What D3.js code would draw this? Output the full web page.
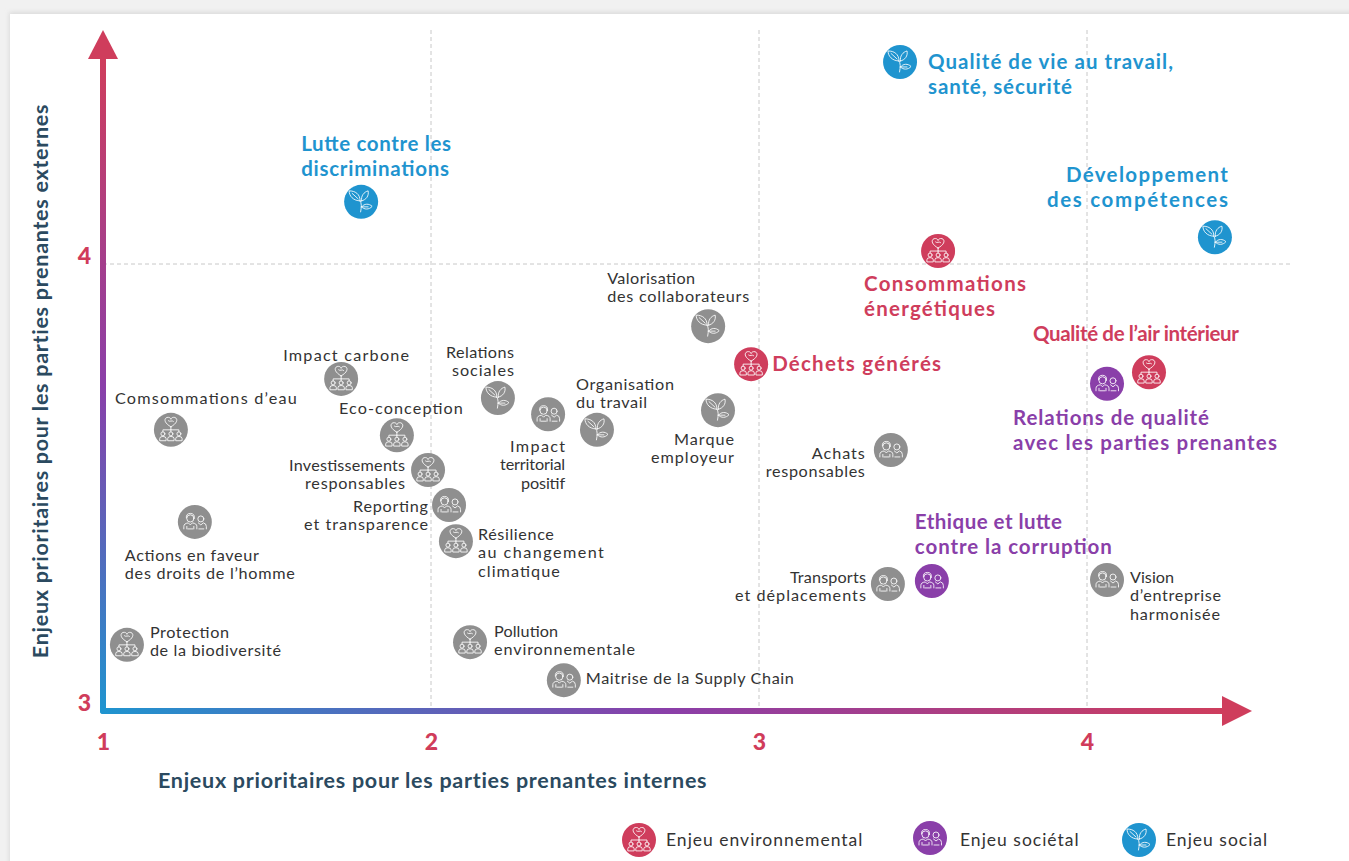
<!DOCTYPE html>
<html>
<head>
<meta charset="utf-8">
<script src="https://cdn.jsdelivr.net/npm/d3@7"></script>
<style>
    html, body { margin: 0; padding: 0; background: #f1f1f1; overflow: hidden; }
    text { font-family: Lato, "Open Sans", sans-serif; }
    .grid { stroke: #c8c8c8; stroke-width: 1; stroke-dasharray: 4 3; }
    .tick-label { font-size: 23px; font-weight: 900; fill: #d03c5b; }
    .axis-title { font-size: 21.5px; font-weight: 700; fill: #2b4a60; letter-spacing: 0.72px; }
    .label { font-size: 16.2px; fill: #333; }
    .label-big { font-size: 20.5px; font-weight: 700; }
    .legend-text { font-size: 17.5px; fill: #333; letter-spacing: 1px; }
    .glyph * { fill: none; stroke: #fff; stroke-width: 0.85; stroke-linecap: round; stroke-linejoin: round; }
</style>
</head>
<body>
<div id="wrapper"></div>
<script>
// data
const names = [
    "Qualité de vie au travail,|santé, sécurité", "Lutte contre les|discriminations", "Développement|des compétences",
    "Consommations|énergétiques", "Valorisation|des collaborateurs", "Déchets générés",
    "Qualité de l’air intérieur", "Relations de qualité|avec les parties prenantes", "Impact carbone",
    "Relations|sociales", "Impact|territorial|positif", "Organisation|du travail",
    "Marque|employeur", "Comsommations d’eau", "Eco-conception",
    "Investissements|responsables", "Achats|responsables", "Reporting|et transparence",
    "Résilience|au changement|climatique", "Actions en faveur|des droits de l’homme", "Transports|et déplacements",
    "Ethique et lutte|contre la corruption", "Vision|d’entreprise|harmonisée", "Protection|de la biodiversité",
    "Pollution|environnementale", "Maitrise de la Supply Chain",
]
const xValues = [
    3.43, 1.787, 4.39, 3.546, 2.845, 2.976, 4.189, 4.061, 1.726, 2.204, 2.357, 2.506, 2.875,
    1.207, 1.896, 1.991, 3.402, 2.055, 2.076, 1.28, 3.393, 3.527, 4.061, 1.073, 2.119, 2.405,
]
const yValues = [
    4.452, 4.139, 4.06, 4.029, 3.861, 3.776, 3.758, 3.732, 3.743, 3.70, 3.664, 3.629, 3.673,
    3.629, 3.617, 3.539, 3.584, 3.461, 3.38, 3.423, 3.284, 3.291, 3.293, 3.148, 3.154, 3.069,
]
// e = environnemental, s = sociétal, c = social
const icons = [
    "c", "c", "c", "e", "c", "e", "e", "s", "e", "c", "s", "c", "c",
    "e", "e", "e", "s", "s", "e", "s", "s", "s", "s", "e", "e", "s",
]
// only these are coloured, the others stay grey
const highlighted = [
    "c", "c", "c", "e", null, "e", "e", "s", null, null, null, null, null,
    null, null, null, null, null, null, null, null, "s", null, null, null, null,
]
const xTicks = [1, 2, 3, 4]
const yTicks = [3, 4]
const legendKeys = ["e", "s", "c"]
const legendLabels = ["Enjeu environnemental", "Enjeu sociétal", "Enjeu social"]

// label placement, offset from the marker: [anchor, dx, dy of first line]
const labelPlacement = [
    ["start", 28, 0], ["start", -60, -58], ["end", 13, -62], ["start", -74, 33], ["start", -101, -48], ["start", 21, 0],
    ["start", -116, -38], ["start", -94, 34], ["end", 68, -24], ["end", 16, -46], ["end", 17, 32], ["start", -21, -46],
    ["end", 16, 29], ["start", -56, -32], ["start", -58, -27], ["end", -23, -5], ["end", -26, 3], ["end", -21, 1],
    ["start", 22, -7], ["start", -70, 33], ["end", -22, -7], ["start", -17, -59], ["start", 23, -3], ["start", 23, -13],
    ["start", 24, -11], ["start", 22, -2],
]
// width of each label line, the font here is not the original one
const lineWidths = [
    [245, 144], [150, 148], [162, 181], [162, 131], [88, 142], [169],
    [206], [196, 264], [126], [68, 62], [55, 65, 44], [98, 71],
    [60, 83], [182], [124], [116, 100], [53, 99], [75, 124],
    [76, 126, 82], [134, 170], [76, 131], [147, 197], [44, 91, 90], [79, 131],
    [64, 141], [208],
]

const colors = { e: "#cf3d5c", s: "#8a3fa9", c: "#1f94cf" }
const grey = "#8f8f8f"

function drawMatrix() {

    const width = 1349
    const height = 861
    const r = 17

    const xScale = d3.scaleLinear().domain([1, 4]).range([103, 1087])
    const yScale = d3.scaleLinear().domain([3, 4]).range([711, 264])

    const svg = d3.select("#wrapper")
        .append("svg")
        .attr("width", width)
        .attr("height", height)
        .style("display", "block")

    const defs = svg.append("defs")

    // card
    defs.append("filter").attr("id", "soft").append("feGaussianBlur").attr("stdDeviation", 2)
    svg.append("rect").attr("x", 9).attr("y", 12).attr("width", width).attr("height", height)
        .attr("fill", "#dcdcdc").attr("filter", "url(#soft)")
    svg.append("rect").attr("x", 10).attr("y", 14).attr("width", width).attr("height", height)
        .attr("fill", "#fff")

    // axis gradients
    const stops = [["0%", colors.c], ["50%", colors.s], ["100%", colors.e]]
    const addGradient = (id, x1, y1, x2, y2) => defs.append("linearGradient")
        .attr("id", id)
        .attr("gradientUnits", "userSpaceOnUse")
        .attr("x1", x1).attr("y1", y1).attr("x2", x2).attr("y2", y2)
        .selectAll("stop")
        .data(stops)
        .join("stop")
        .attr("offset", d => d[0])
        .attr("stop-color", d => d[1])
    addGradient("grad-x", 103, 0, 1230, 0)
    addGradient("grad-y", 0, 711, 0, 60)

    // icon glyphs
    const glyphE = defs.append("g").attr("id", "glyph-e").attr("class", "glyph")
    glyphE.append("path").attr("d", "M0,-3 C-9,-8 -6,-13 -2.5,-12.5 C-1,-12.5 0,-11 0,-10.5 C0,-11 1,-12.5 2.5,-12.5 C6,-13 9,-8 0,-3 Z")
    glyphE.append("path").attr("d", "M-2.5,-9 C-1,-7.5 1,-10 2.5,-8.5")
    glyphE.append("path").attr("d", "M0,-3 V0 M-8,2 V0 H8 V2 M0,0 V2")
    ;[-8, 0, 8].forEach(x => {
        glyphE.append("circle").attr("cx", x).attr("cy", 4).attr("r", 2)
        glyphE.append("path").attr("d", `M${x - 3.2},10.5 V8.8 Q${x - 3.2},6.6 ${x},6.6 Q${x + 3.2},6.6 ${x + 3.2},8.8 V10.5 Z`)
    })

    const glyphS = defs.append("g").attr("id", "glyph-s").attr("class", "glyph")
    glyphS.append("circle").attr("cx", -4.5).attr("cy", -3.5).attr("r", 3.6)
    glyphS.append("path").attr("d", "M-8.5,-4 Q-9,-8.5 -4.5,-8.5 Q0,-8.5 -0.5,-4")
    glyphS.append("path").attr("d", "M-11,7 V4.5 Q-11,1.5 -6.5,1 L-4.5,3 L-2.5,1 Q2,1.5 2,4.5 V7")
    glyphS.append("path").attr("d", "M-8,7 V4.5 M-1,7 V4.5 M-7,7 H-2")
    glyphS.append("circle").attr("cx", 6).attr("cy", -3).attr("r", 3)
    glyphS.append("path").attr("d", "M3.5,1 L6,3 L8.5,1 Q11.5,1.5 11.5,4.5 V7 M4,7 H9")

    const glyphC = defs.append("g").attr("id", "glyph-c").attr("class", "glyph")
    glyphC.append("path").attr("d", "M-1,-1 C-8,-1 -12,-6 -12,-11 C-6,-11 -1,-8 -1,-1 Z")
    glyphC.append("path").attr("d", "M-9,-8.5 L-3,-3")
    glyphC.append("path").attr("d", "M0.5,-1 C-0.5,-6 3,-10 7,-11 C8,-6 5,-2 0.5,-1 Z")
    glyphC.append("path").attr("d", "M-0.5,10 C0.5,5 0.5,1 -1,-1")
    glyphC.append("path").attr("d", "M0.5,5 C3,1.5 8,1.5 11,4.5 C8,8 3,8 0.5,5 Z M0.5,5 H7")

    // grid
    const grid = svg.append("g")
    grid.selectAll(".grid-x")
        .data(xTicks.slice(1))
        .join("line")
        .attr("class", "grid")
        .attr("x1", xScale).attr("x2", xScale)
        .attr("y1", 30).attr("y2", yScale(3))
    grid.selectAll(".grid-y")
        .data(yTicks.slice(1))
        .join("line")
        .attr("class", "grid")
        .attr("x1", xScale(1)).attr("x2", 1290)
        .attr("y1", yScale).attr("y2", yScale)

    // ticks, via the d3 axes but without their lines
    const xAxis = svg.append("g")
        .attr("transform", `translate(0,${yScale(3)})`)
        .call(d3.axisBottom(xScale).tickValues(xTicks).tickSize(0).tickPadding(23).tickFormat(d3.format("d")))
    const yAxis = svg.append("g")
        .attr("transform", `translate(${xScale(1)},0)`)
        .call(d3.axisLeft(yScale).tickValues(yTicks).tickSize(0).tickPadding(12).tickFormat(d3.format("d")))
    xAxis.select(".domain").remove()
    yAxis.select(".domain").remove()
    xAxis.selectAll("text").attr("class", "tick-label").attr("fill", null)
    yAxis.selectAll("text").attr("class", "tick-label").attr("fill", null).attr("y", -8)

    // axis arrows
    svg.append("line")
        .attr("x1", xScale(1)).attr("x2", xScale(1))
        .attr("y1", yScale(3)).attr("y2", 58)
        .attr("stroke", "url(#grad-y)").attr("stroke-width", 6).attr("stroke-linecap", "round")
    svg.append("line")
        .attr("x1", xScale(1)).attr("x2", 1224)
        .attr("y1", yScale(3)).attr("y2", yScale(3))
        .attr("stroke", "url(#grad-x)").attr("stroke-width", 6).attr("stroke-linecap", "round")
    const arrowX = xScale(1)
    const arrowY = yScale(3)
    svg.append("path")
        .attr("d", d3.line()([[arrowX, 30], [arrowX + 15, 59], [arrowX - 15, 59]]) + "Z")
        .attr("fill", colors.e)
    svg.append("path")
        .attr("d", d3.line()([[1252, arrowY], [1222, arrowY - 15], [1222, arrowY + 15]]) + "Z")
        .attr("fill", colors.e)

    // axis titles
    svg.append("text")
        .attr("class", "axis-title")
        .attr("x", 158).attr("y", 788)
        .text("Enjeux prioritaires pour les parties prenantes internes")
    svg.append("text")
        .attr("class", "axis-title")
        .attr("transform", "translate(48,381) rotate(-90)")
        .attr("text-anchor", "middle")
        .text("Enjeux prioritaires pour les parties prenantes externes")

    // markers
    const dataset = names.map((name, i) => ({
        lines: name.split("|"),
        x: xValues[i],
        y: yValues[i],
        icon: icons[i],
        color: highlighted[i],
        place: labelPlacement[i],
        widths: lineWidths[i],
    }))

    const dots = svg.selectAll(".dot")
        .data(dataset)
        .join("g")
        .attr("class", "dot")
        .attr("transform", d => `translate(${xScale(d.x)},${yScale(d.y)})`)

    dots.append("circle")
        .attr("r", r)
        .attr("fill", d => d.color ? colors[d.color] : grey)
    dots.append("use")
        .attr("href", d => `#glyph-${d.icon}`)

    // labels
    dots.each(function(d) {
        const big = !!d.color
        const lineHeight = big ? 25 : 18.6
        d3.select(this).selectAll("text")
            .data(d.lines)
            .join("text")
            .attr("class", big ? "label-big" : "label")
            .attr("text-anchor", d.place[0])
            .attr("x", d.place[1])
            .attr("y", (l, i) => d.place[2] + i * lineHeight)
            .attr("dy", "0.35em")
            .attr("textLength", (l, i) => d.widths[i])
            .attr("lengthAdjust", "spacing")
            .attr("fill", big ? colors[d.color] : null)
            .text(l => l)
    })

    // legend
    const legendX = [639, 930, 1139]
    const legendY = [840, 838, 840]
    const legend = svg.selectAll(".legend-item")
        .data(legendKeys)
        .join("g")
        .attr("class", "legend-item")
        .attr("transform", (d, i) => `translate(${legendX[i]},${legendY[i]})`)
    legend.append("circle").attr("r", r).attr("fill", d => colors[d])
    legend.append("use").attr("href", d => `#glyph-${d}`)
    legend.append("text")
        .attr("class", "legend-text")
        .attr("x", (d, i) => [27, 30, 27][i])
        .attr("y", 840)
        .attr("transform", (d, i) => `translate(0,${-legendY[i]})`)
        .attr("dy", "0.35em")
        .text((d, i) => legendLabels[i])
}
drawMatrix()
</script>
</body>
</html>
